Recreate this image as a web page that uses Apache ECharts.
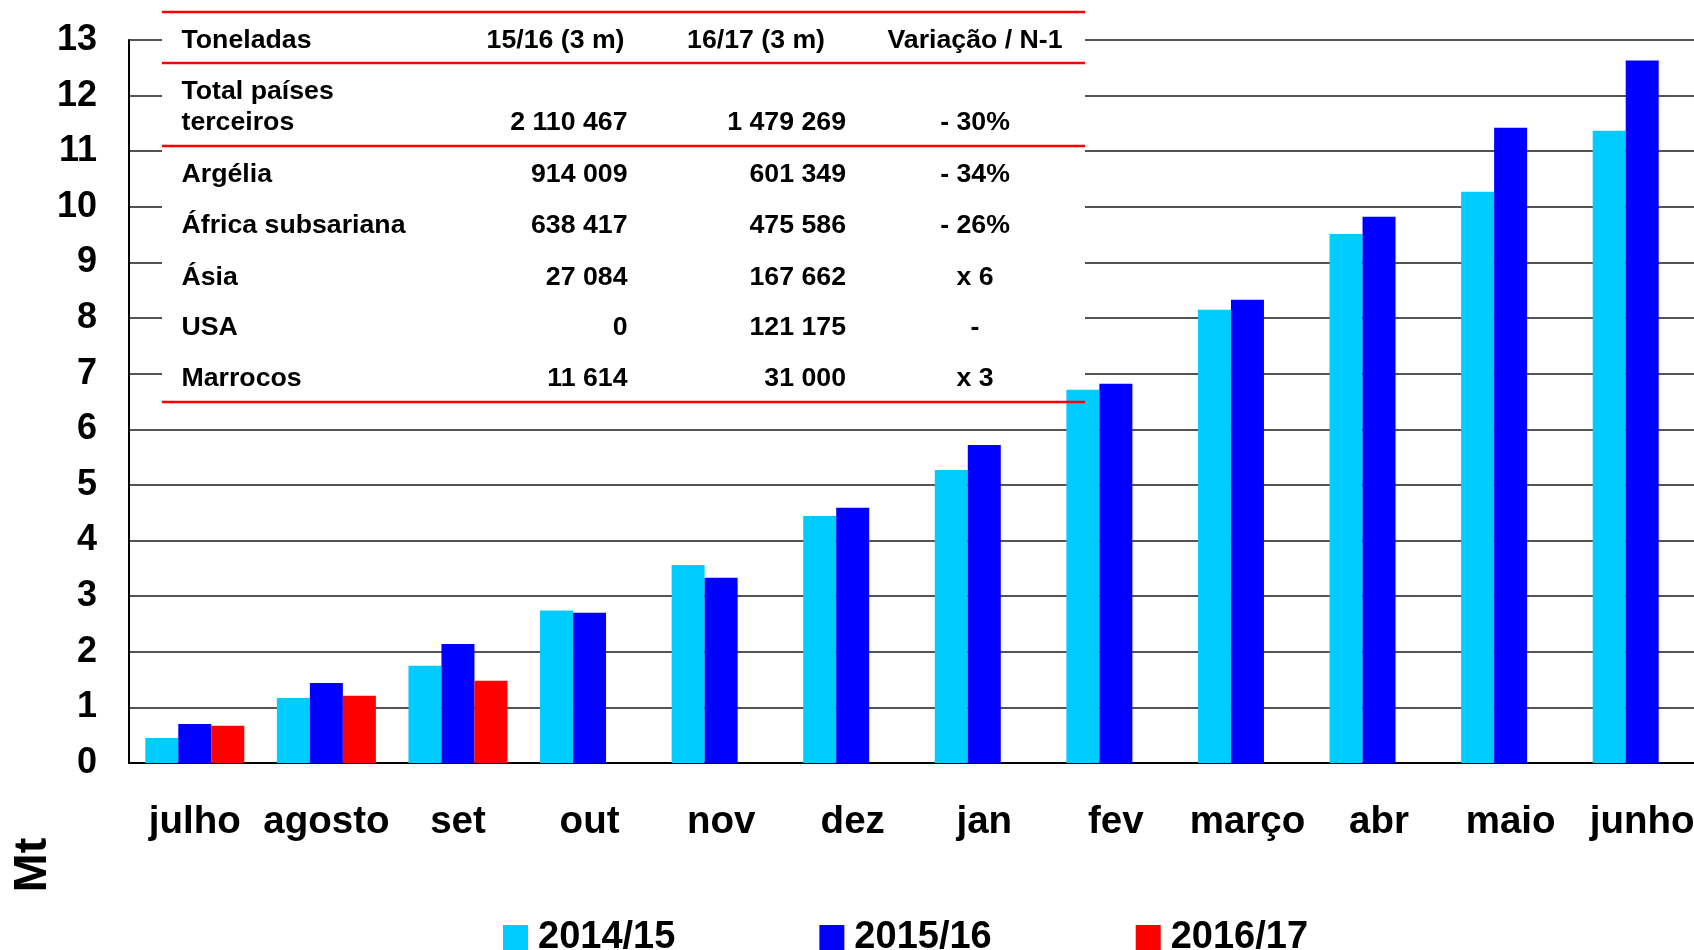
<!DOCTYPE html>
<html>
<head>
<meta charset="utf-8">
<script src="https://cdn.jsdelivr.net/npm/echarts@6/dist/echarts.min.js"></script>
<style>
html,body{margin:0;padding:0;background:#fff;}
#chart{width:1694px;height:950px;}
</style>
</head>
<body>
<div id="chart"></div>
<script>
// ---- data ----
const categories = ['julho','agosto','set','out','nov','dez','jan','fev','março','abr','maio','junho'];
const s2014 = [0.45, 1.17, 1.75, 2.74, 3.56, 4.44, 5.27, 6.71, 8.15, 9.51, 10.27, 11.37];
const s2015 = [0.70, 1.44, 2.14, 2.70, 3.33, 4.59, 5.72, 6.82, 8.33, 9.82, 11.42, 12.63];
const s2016 = [0.67, 1.21, 1.48, null, null, null, null, null, null, null, null, null];
const seriesNames = ['2014/15', '2015/16', '2016/17'];
const yTicks = [0,1,2,3,4,5,6,7,8,9,10,11,12,13];

const tableHeader = ['Toneladas', '15/16 (3 m)', '16/17 (3 m)', 'Variação / N-1'];
const tableNames = ['Total países\nterceiros', 'Argélia', 'África subsariana', 'Ásia', 'USA', 'Marrocos'];
const tableCol1 = ['2 110 467', '914 009', '638 417', '27 084', '0', '11 614'];
const tableCol2 = ['1 479 269', '601 349', '475 586', '167 662', '121 175', '31 000'];
const tableCol3 = ['- 30%', '- 34%', '- 26%', 'x 6', '-', 'x 3'];

// ---- layout / style ----
const FONT = "'Liberation Sans', Arial, sans-serif";
const colors = ['#00CCFF', '#0000FF', '#FF0000'];
const T = {x0: 162, x1: 1085, top: 12, bottom: 402};
const redYs = [12, 63, 146, 402];
const rowY = [123, 175, 226, 277.5, 328, 379];
const headerY = 41;
const colName = 181.5, col1R = 627.5, col2R = 846, col3C = 975;

const g = [];
g.push({type:'rect', z:1, shape:{x:T.x0, y:T.top, width:T.x1-T.x0, height:T.bottom-T.top}, style:{fill:'#fff'}});
redYs.forEach(y => g.push({type:'line', z:10, shape:{x1:T.x0, y1:y, x2:T.x1, y2:y}, style:{stroke:'#FF0000', lineWidth:2.5}}));
function txt(x, y, s, align) {
  g.push({type:'text', z:10, x:x, y:y, style:{text:s, fill:'#000', font:"bold 26.7px " + FONT, align:align, verticalAlign:'middle'}});
}
txt(colName, headerY, tableHeader[0], 'left');
txt(624.5, headerY, tableHeader[1], 'right');
txt(825, headerY, tableHeader[2], 'right');
txt(col3C, headerY, tableHeader[3], 'center');
tableNames.forEach((n, i) => {
  if (n.indexOf('\n') >= 0) {
    const parts = n.split('\n');
    txt(colName, 92, parts[0], 'left');
    txt(colName, rowY[i], parts[1], 'left');
  } else {
    txt(colName, rowY[i], n, 'left');
  }
  txt(col1R, rowY[i], tableCol1[i], 'right');
  txt(col2R, rowY[i], tableCol2[i], 'right');
  txt(col3C, rowY[i], tableCol3[i], 'center');
});
g.push({type:'text', z:10, x:33, y:865, rotation:Math.PI/2,
  style:{text:'Mt', fill:'#000', font:"bold 47px " + FONT, align:'center', verticalAlign:'middle'}});

const chart = echarts.init(document.getElementById('chart'), null, {renderer:'canvas'});
chart.setOption({
  animation: false,
  backgroundColor: '#fff',
  grid: {left:129, top:40, width:1579, height:723, containLabel:false, outerBoundsMode:'none'},
  legend: {
    data: seriesNames, left: 498, top: 914, itemWidth: 25, itemHeight: 26, icon: 'rect',
    itemGap: 144,
    textStyle: {fontFamily: FONT, fontWeight: 'bold', fontSize: 38, color: '#000', padding:[0,0,0,5]}
  },
  xAxis: {
    type: 'category', data: categories,
    axisLine: {show: true, lineStyle: {color: '#000', width: 2}},
    axisTick: {show: false},
    axisLabel: {interval: 0, margin: 40, fontFamily: FONT, fontWeight: 'bold', fontSize: 38.5, color: '#000'}
  },
  yAxis: {
    type: 'value', min: yTicks[0], max: yTicks[yTicks.length-1], interval: 1,
    axisLine: {show: true, lineStyle: {color: '#000', width: 2}},
    axisTick: {show: false},
    axisLabel: {margin: 32, padding:[8,0,0,0], fontFamily: FONT, fontWeight: 'bold', fontSize: 36, color: '#000'},
    splitLine: {show: true, lineStyle: {color: '#1a1a1a', width: 1.6}}
  },
  graphic: g,
  series: [
    {name: seriesNames[0], type: 'bar', data: s2014, barWidth: 33, barGap: '0%', itemStyle: {color: colors[0]}},
    {name: seriesNames[1], type: 'bar', data: s2015, barWidth: 33, barGap: '0%', itemStyle: {color: colors[1]}},
    {name: seriesNames[2], type: 'bar', data: s2016, barWidth: 33, barGap: '0%', itemStyle: {color: colors[2]}}
  ]
});
</script>
</body>
</html>
